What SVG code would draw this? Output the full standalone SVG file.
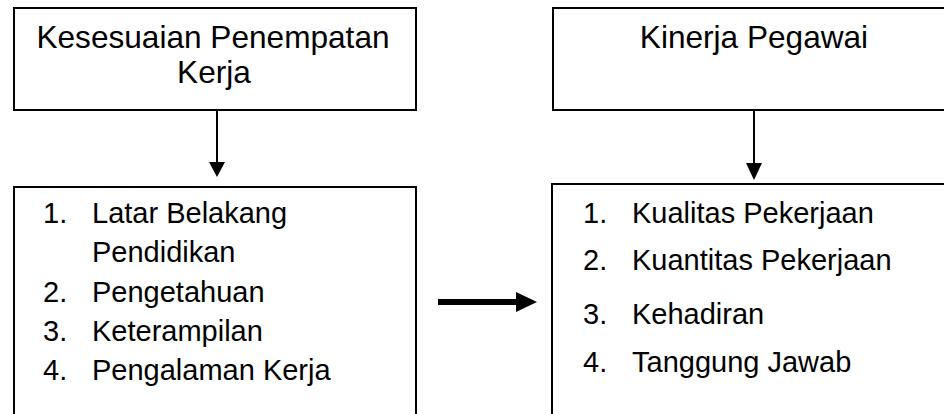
<svg xmlns="http://www.w3.org/2000/svg" width="944" height="414" viewBox="0 0 944 414">
<style>
.box{fill:#fff;stroke:#000;stroke-width:2}
.h{font-family:"Liberation Sans",Arial,sans-serif;font-size:31.6px;fill:#000;text-anchor:middle}
.t{font-family:"Liberation Sans",Arial,sans-serif;font-size:29px;fill:#000}
.ln{stroke:#000;stroke-width:2;fill:none}
</style>
<rect width="944" height="414" fill="#fff"/>
<g id="node-kesesuaian">
<rect class="box" x="14" y="8" width="402" height="102"/>
<text class="h" x="213" y="48">Kesesuaian Penempatan</text>
<text class="h" x="214" y="83">Kerja</text>
</g>
<g id="node-kinerja">
<rect class="box" x="553" y="8" width="402" height="102"/>
<text class="h" x="754" y="48">Kinerja Pegawai</text>
</g>
<g id="node-indikator-x">
<rect class="box" x="14" y="187" width="402" height="240"/>
<text class="t" x="43" y="223">1.</text>
<text class="t" x="92" y="223">Latar Belakang</text>
<text class="t" x="92" y="262">Pendidikan</text>
<text class="t" x="43" y="302">2.</text>
<text class="t" x="92" y="302">Pengetahuan</text>
<text class="t" x="43" y="341">3.</text>
<text class="t" x="92" y="341">Keterampilan</text>
<text class="t" x="43" y="380">4.</text>
<text class="t" x="92" y="380">Pengalaman Kerja</text>
</g>
<g id="node-indikator-y">
<rect class="box" x="552" y="184" width="402" height="240"/>
<text class="t" x="583" y="223">1.</text>
<text class="t" x="632" y="223">Kualitas Pekerjaan</text>
<text class="t" x="583" y="270">2.</text>
<text class="t" x="632" y="270">Kuantitas Pekerjaan</text>
<text class="t" x="583" y="324">3.</text>
<text class="t" x="632" y="324">Kehadiran</text>
<text class="t" x="583" y="372">4.</text>
<text class="t" x="632" y="372">Tanggung Jawab</text>
</g>
<g id="connectors">
<line class="ln" x1="217" y1="110" x2="217" y2="163"/>
<polygon points="209,162 225,162 217,177" fill="#000"/>
<line class="ln" x1="754" y1="110" x2="754" y2="164"/>
<polygon points="746,163 762,163 754,180" fill="#000"/>
<line x1="438" y1="302" x2="518" y2="302" stroke="#000" stroke-width="6"/>
<polygon points="516,292 537,302 516,312" fill="#000"/>
</g>
</svg>
